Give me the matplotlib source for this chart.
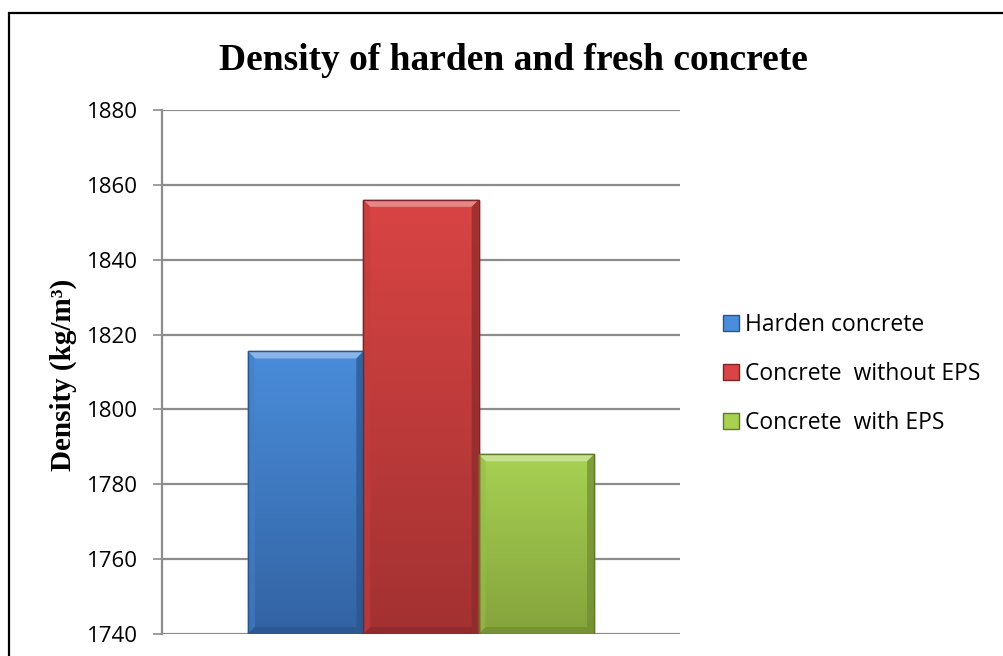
import numpy as np
import matplotlib
matplotlib.use("Agg")
import matplotlib.pyplot as plt
from matplotlib.patches import Rectangle, Polygon, Patch
from matplotlib.colors import to_rgb

# data
series = ["Harden concrete", "Concrete  without EPS", "Concrete  with EPS"]
density = [1815.5, 1856.0, 1788.0]
top_colors = ["#4a8ddb", "#d94444", "#a8d152"]
bottom_colors = ["#3263a3", "#a33131", "#84a33c"]
edge_colors = ["#2a548c", "#7e2424", "#5f7a28"]
yticks = [1740, 1760, 1780, 1800, 1820, 1840, 1860, 1880]

fig = plt.figure(figsize=(10.04, 6.56), dpi=100)
ax = fig.add_axes([162 / 1004, 1 - 634 / 656, 518 / 1004, 524 / 656])

xs = np.arange(len(series)) - 1
width = 1.0
ax.set_xlim(-2.245, 2.245)
ax.set_ylim(yticks[0], yticks[-1])

# gridlines
ax.set_yticks(yticks)
ax.yaxis.grid(True, color="#8c8c8c", lw=1.6)
ax.set_axisbelow(True)

# bevel size in data units (about 7 px)
bx = (ax.get_xlim()[1] - ax.get_xlim()[0]) * 7 / 518
by = (ax.get_ylim()[1] - ax.get_ylim()[0]) * 7 / 524

for x, v, ct, cb, ce, lab in zip(xs, density, top_colors, bottom_colors, edge_colors, series):
    bars = ax.bar(x, v - yticks[0], width, bottom=yticks[0], color=ct,
                  edgecolor=ce, lw=1.0, label=lab, zorder=2)
    bar = bars[0]
    # vertical gradient
    c1 = np.array(to_rgb(ct))
    c2 = np.array(to_rgb(cb))
    t = np.linspace(0, 1, 256)[:, None]
    grad = (c1 * (1 - t) + c2 * t)[:, None, :]
    x0, x1 = x - width / 2, x + width / 2
    im = ax.imshow(grad, extent=[x0, x1, yticks[0], v], aspect="auto",
                   origin="upper", zorder=2.1, interpolation="bilinear")
    im.set_clip_path(bar)
    # bevel: light top, darker sides
    light = np.clip(c1 * 0.55 + 0.45, 0, 1)
    dark = c2 * 0.85
    ax.add_patch(Polygon([[x0, v], [x1, v], [x1 - bx, v - by], [x0 + bx, v - by]],
                         closed=True, fc=light, ec="none", alpha=0.8, zorder=2.2))
    ax.add_patch(Polygon([[x0, v], [x0 + bx, v - by], [x0 + bx, yticks[0] + by], [x0, yticks[0]]],
                         closed=True, fc=c1 * 0.9, ec="none", alpha=0.6, zorder=2.2))
    ax.add_patch(Polygon([[x1, v], [x1 - bx, v - by], [x1 - bx, yticks[0] + by], [x1, yticks[0]]],
                         closed=True, fc=dark, ec="none", alpha=0.7, zorder=2.2))
    ax.add_patch(Polygon([[x0, yticks[0]], [x0 + bx, yticks[0] + by], [x1 - bx, yticks[0] + by], [x1, yticks[0]]],
                         closed=True, fc=dark, ec="none", alpha=0.7, zorder=2.2))
    ax.add_patch(Rectangle((x0, yticks[0]), width, v - yticks[0], fc="none",
                           ec=ce, lw=1.0, zorder=2.3))

for s in ["top", "right", "bottom"]:
    ax.spines[s].set_visible(False)
ax.spines["left"].set_color("#8c8c8c")
ax.spines["left"].set_linewidth(1.6)
ax.set_xticks([])
ax.tick_params(axis="y", length=6.5, width=1.2, color="#8c8c8c", pad=11,
               labelsize=16)
for lbl in ax.get_yticklabels():
    lbl.set_fontfamily("Open Sans")

ax.set_ylabel("Density (kg/m³)", fontfamily="Liberation Serif",
              fontweight="bold", fontsize=21)
ax.yaxis.set_label_coords((77 - 162) / 518, (634 - 375) / 524)

fig.text(513 / 1004, 1 - 60 / 656, "Density of harden and fresh concrete",
         ha="center", va="center", fontfamily="Liberation Serif",
         fontweight="bold", fontsize=27)

handles = [Patch(fc=c, ec=e, lw=1.0) for c, e in zip(top_colors, edge_colors)]
leg = ax.legend(handles, series, loc="center left",
                bbox_to_anchor=((723 - 162) / 518, (634 - 374) / 524),
                frameon=False, borderpad=0, borderaxespad=0,
                handlelength=0.7, handleheight=0.7, handletextpad=0.26,
                labelspacing=1.1, prop={"family": "Open Sans", "size": 16.5})

# outer frame, cropped on right and bottom
fig.patches.append(Rectangle((9 / 1004, -0.1), 1.2, 1.1 - 13 / 656,
                             transform=fig.transFigure, fill=False,
                             ec="black", lw=1.6))

fig.savefig("out.png", dpi=100)
